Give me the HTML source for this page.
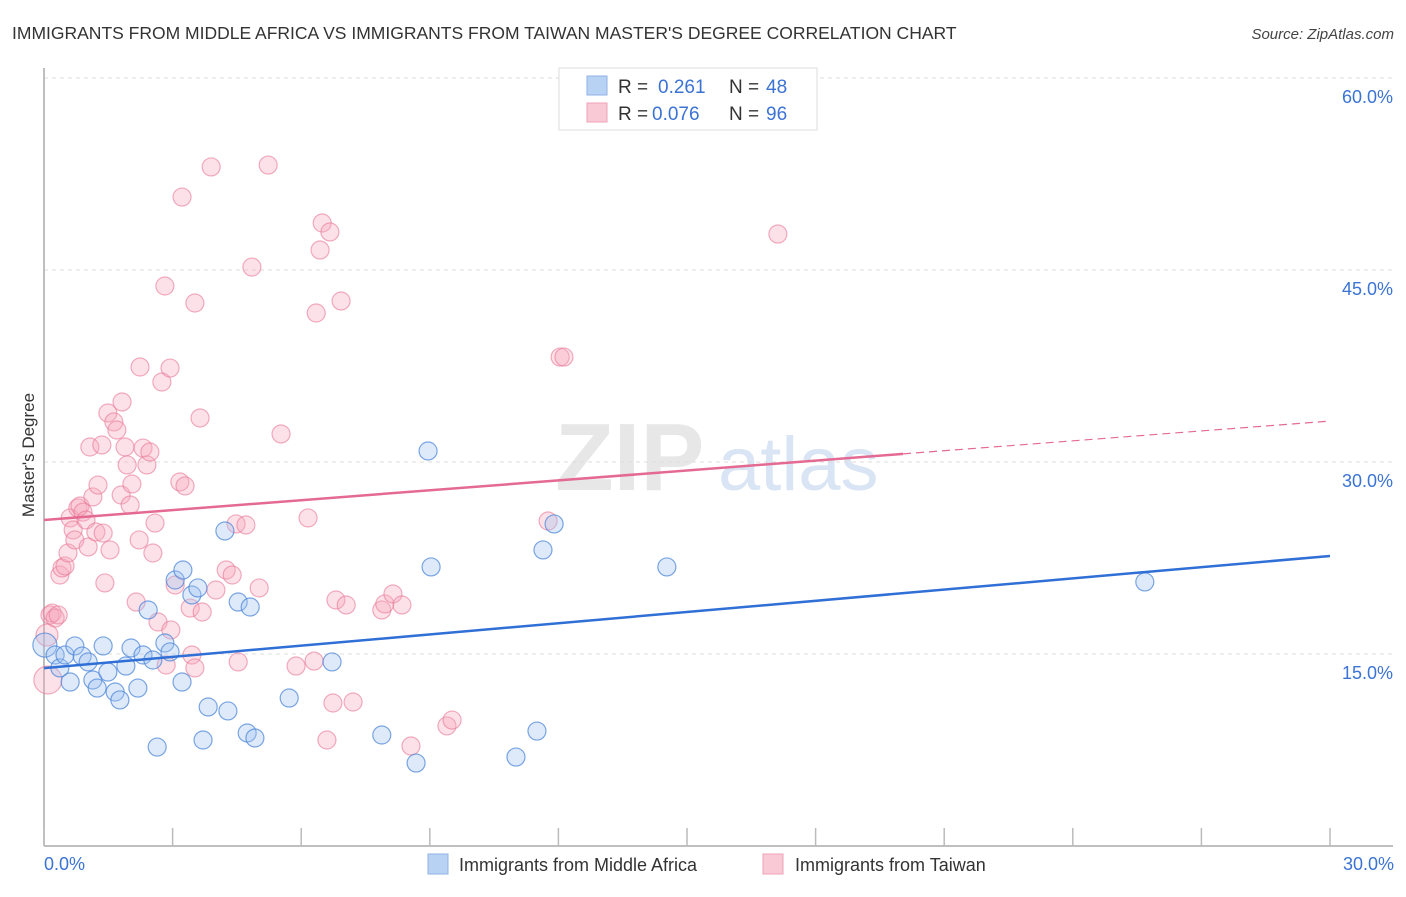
<!DOCTYPE html>
<html><head><meta charset="utf-8"><style>
body{margin:0;background:#fff;font-family:"Liberation Sans",sans-serif;}
svg text{font-family:"Liberation Sans",sans-serif;}
</style></head><body>
<svg width="1406" height="892" xmlns="http://www.w3.org/2000/svg" id="c">
<text x="12" y="39" font-size="17.5" fill="#333">IMMIGRANTS FROM MIDDLE AFRICA VS IMMIGRANTS FROM TAIWAN MASTER'S DEGREE CORRELATION CHART</text>
<text x="1394" y="39" font-size="15" fill="#444" text-anchor="end" font-style="italic">Source: ZipAtlas.com</text>
<g>
<text x="555" y="490" font-size="96" fill="#ddd" font-family="Liberation Serif" font-weight="bold" opacity="0.7">ZIP</text>
<text x="718" y="490" font-size="76" fill="#c9daf0" opacity="0.7">atlas</text>
</g>
<g id="grid"></g>
<g id="axes"></g>
<g id="pts"></g>
<g id="lines"></g>
<text transform="translate(34,455) rotate(-90)" font-size="17" fill="#333" text-anchor="middle">Master's Degree</text>
<text x="44" y="870" font-size="18" fill="#3b73d4">0.0%</text>
<text x="1394" y="870" font-size="18" fill="#3b73d4" text-anchor="end">30.0%</text>
<g>
<rect x="559" y="68" width="258" height="62" fill="#fff" stroke="#ddd"/>
<rect x="587" y="76" width="20" height="19" fill="#b8d2f4" stroke="#8fb3e6"/>
<rect x="587" y="103" width="20" height="19" fill="#f9c9d6" stroke="#f0a3b8"/>
<text x="618" y="93" font-size="19" fill="#333">R = </text><text x="658" y="93" font-size="19" fill="#3b73d4">0.261</text>
<text x="729" y="93" font-size="19" fill="#333">N = </text><text x="766" y="93" font-size="19" fill="#3b73d4">48</text>
<text x="618" y="120" font-size="19" fill="#333">R = </text><text x="652" y="120" font-size="19" fill="#3b73d4">0.076</text>
<text x="729" y="120" font-size="19" fill="#333">N = </text><text x="766" y="120" font-size="19" fill="#3b73d4">96</text>
</g>
<g>
<rect x="428" y="854" width="20" height="20" fill="#b8d2f4" stroke="#8fb3e6"/>
<text x="459" y="871" font-size="18" fill="#333">Immigrants from Middle Africa</text>
<rect x="763" y="854" width="20" height="20" fill="#f9c9d6" stroke="#f0a3b8"/>
<text x="795" y="871" font-size="18" fill="#333">Immigrants from Taiwan</text>
</g>
</svg>
<script>
const yTicks=[15,30,45,60];
const yTickLabels=["15.0%","30.0%","45.0%","60.0%"];
const xTicks=[0,3,6,9,12,15,18,21,24,27,30];
// pixel estimates converted to data below via inverse axis
const bluePx=[[45,645],[55,655],[60,668],[65,655],[70,682],[75,646],[82,656],[88,662],[93,680],[97,688],[103,646],[108,672],[115,692],[120,700],[126,666],[131,648],[138,688],[143,655],[148,610],[153,660],[157,747],[165,643],[170,652],[175,580],[182,682],[183,570],[192,595],[198,588],[203,740],[208,707],[225,531],[228,711],[238,602],[247,733],[250,607],[255,738],[289,698],[332,662],[382,735],[416,763],[428,451],[431,567],[516,757],[537,731],[543,550],[554,524],[667,567],[1145,582]];
const pinkPx=[[50,615],[52,613],[55,618],[58,615],[47,635],[48,680],[60,575],[62,568],[65,566],[68,553],[70,518],[73,530],[75,540],[78,508],[80,506],[83,512],[86,520],[88,547],[90,447],[93,497],[96,532],[98,485],[102,445],[103,533],[105,583],[108,413],[110,550],[114,422],[117,430],[121,495],[122,402],[125,447],[127,465],[130,505],[132,484],[136,602],[139,540],[140,367],[143,448],[147,465],[150,452],[153,553],[155,523],[158,622],[162,382],[165,286],[166,665],[170,368],[171,630],[175,585],[180,482],[182,197],[185,486],[190,608],[192,655],[195,303],[195,668],[200,418],[202,612],[211,167],[216,590],[226,570],[232,575],[236,524],[238,662],[246,525],[252,267],[259,588],[268,165],[281,434],[296,666],[308,518],[314,661],[316,313],[320,250],[322,223],[327,740],[330,232],[333,703],[336,600],[341,301],[346,605],[353,702],[382,610],[385,604],[393,594],[402,605],[411,746],[447,726],[452,720],[548,521],[560,357],[564,357],[778,234]];
const X0=44,X1=1330,Y0=846,PPU=12.8;
const xs=v=>X0+v/30*(X1-X0), ys=v=>Y0-v*PPU;
const blueX=bluePx.map(p=>+((p[0]-X0)/(X1-X0)*30).toFixed(2)), blueY=bluePx.map(p=>+((Y0-p[1])/PPU).toFixed(2));
const pinkX=pinkPx.map(p=>+((p[0]-X0)/(X1-X0)*30).toFixed(2)), pinkY=pinkPx.map(p=>+((Y0-p[1])/PPU).toFixed(2));
const blueTrend=[13.9,22.66], pinkTrend=[25.47,33.2], pinkSolidEnd=20.04;
const NS="http://www.w3.org/2000/svg";
function mk(t,a,parent){const e=document.createElementNS(NS,t);for(const k in a)e.setAttribute(k,a[k]);document.getElementById(parent).appendChild(e);return e;}
let g=mk('line',{x1:44,x2:1393,y1:78,y2:78,stroke:'#ddd','stroke-dasharray':'4 4'},'grid');


yTicks.forEach((t,i)=>{
 const l=mk('line',{x1:44,x2:1393,y1:ys(t),y2:ys(t),stroke:'#ddd','stroke-dasharray':'4 4'},'grid');
 
 
 const tx=mk('text',{x:1393,y:ys(t)+25,'font-size':18,fill:'#3b73d4','text-anchor':'end'},'grid');
 tx.textContent=yTickLabels[i];
 
 
});
let a=mk('line',{x1:44,x2:44,y1:68,y2:846,stroke:'#aaa','stroke-width':1.5},'axes');


a=mk('line',{x1:44,x2:1393,y1:846,y2:846,stroke:'#aaa','stroke-width':1.5},'axes');


xTicks.forEach(t=>{const k=mk('line',{x1:xs(t),x2:xs(t),y1:828,y2:846,stroke:'#bbb','stroke-width':1.5},'axes');
 
 });
pinkX.forEach((x,i)=>{const c=mk('circle',{cx:xs(x),cy:ys(pinkY[i]),r:(i==5?14:(i==4?11:9)),fill:'rgba(246,168,190,0.35)',stroke:'rgba(232,120,150,0.6)','stroke-width':1.2},'pts');
 
 });
blueX.forEach((x,i)=>{const c=mk('circle',{cx:xs(x),cy:ys(blueY[i]),r:(i==0?12:9),fill:'rgba(160,195,240,0.35)',stroke:'rgba(70,130,215,0.7)','stroke-width':1.2},'pts');
 
 });
let t=mk('line',{x1:xs(0),y1:ys(blueTrend[0]),x2:xs(30),y2:ys(blueTrend[1]),stroke:'#2f6fd6','stroke-width':2.5},'lines');


const py=x=>pinkTrend[0]+(pinkTrend[1]-pinkTrend[0])*x/30;
t=mk('line',{x1:xs(0),y1:ys(py(0)),x2:xs(pinkSolidEnd),y2:ys(py(pinkSolidEnd)),stroke:'#e46a92','stroke-width':2.5},'lines');


t=mk('line',{x1:xs(pinkSolidEnd),y1:ys(py(pinkSolidEnd)),x2:xs(30),y2:ys(py(30)),stroke:'#e46a92','stroke-width':1.2,'stroke-dasharray':'8 5'},'lines');


</script>
</body></html>
